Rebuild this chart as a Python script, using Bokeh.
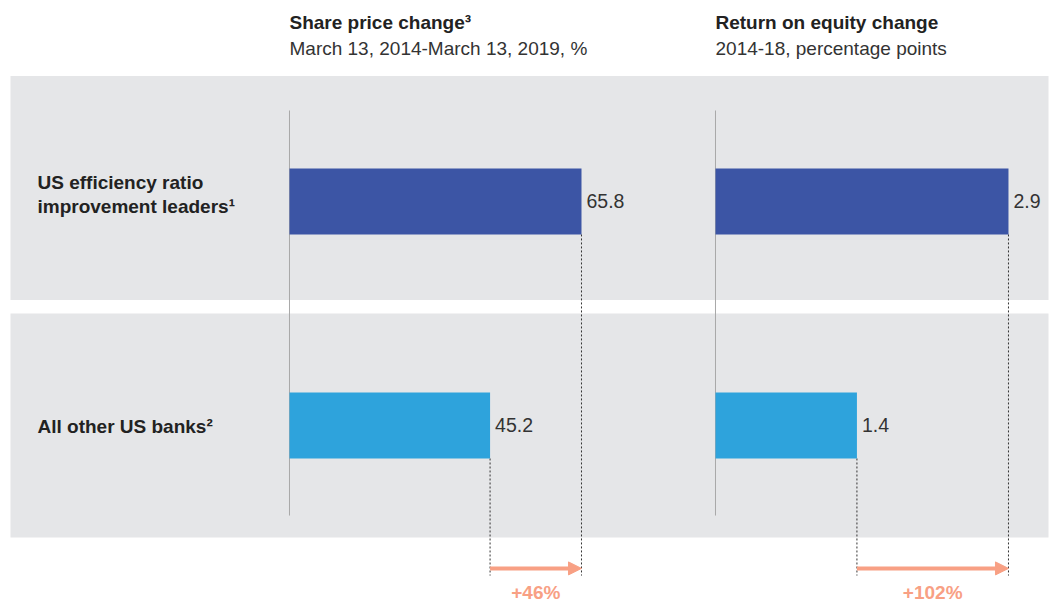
from bokeh.plotting import figure
from bokeh.models import Range1d, ColumnDataSource, Arrow, NormalHead
from bokeh.core.properties import value
from bokeh.embed import file_html
from bokeh.resources import INLINE

# ---- data ----
groups = ["US efficiency ratio\nimprovement leaders\u00b9", "All other US banks\u00b2"]
share_price_change = [65.8, 45.2]
roe_change = [2.9, 1.4]
panel_titles = ["Share price change\u00b3", "Return on equity change"]
panel_subtitles = ["March 13, 2014-March 13, 2019, %", "2014-18, percentage points"]
uplift_labels = ["+46%", "+102%"]

# ---- style ----
FONT = "Liberation Sans"
FS = "19px"
BAR_COLORS = ["#3c55a5", "#2ea3dc"]
BAND = "#e5e6e8"
ORANGE = "#f8a084"
DARK = "#222222"
TXT = "#333333"

W, H = 1049, 605
p = figure(width=W, height=H, x_range=Range1d(0, W), y_range=Range1d(-0.8036, 1.897),
           output_backend="svg", toolbar_location=None, min_border=0,
           x_axis_location=None, y_axis_location=None)
p.grid.visible = False
p.outline_line_color = None
p.background_fill_color = "white"
p.extra_x_ranges = {"share": Range1d(-65.12, 171.26), "roe": Range1d(-7.077, 3.306)}

n = len(groups)
ypos = [n - 1 - i for i in range(n)]
half = 0.1473

# grey bands
p.quad(left=10, right=W - 1, bottom=[y - 0.5 + 0.06 * y for y in ypos],
       top=[y + 0.5 + 0.06 * y for y in ypos], fill_color=BAND, line_color=None)

# category labels
lab_src = ColumnDataSource(dict(y=ypos, t=groups,
                                yo=[-7 if "\n" in g else 1 for g in groups]))
p.text(x=37, y="y", text="t", source=lab_src, y_offset="yo", text_font=value(FONT),
       text_font_style="bold", text_font_size=FS, text_color=DARK,
       text_baseline="middle", text_align="left", text_line_height=1.15)

panels = [("share", share_price_change), ("roe", roe_change)]
for k, (name, vals) in enumerate(panels):
    src = ColumnDataSource(dict(y=ypos, v=vals, c=BAR_COLORS,
                                lab=[f"{v:.1f}" for v in vals],
                                ybot=[y - half for y in ypos]))
    # baseline
    p.segment(x0=0, x1=0, y0=-0.402, y1=1.406, line_color="#a8a8a8", line_width=1,
              x_range_name=name)
    # dashed guides
    p.segment(x0="v", x1="v", y0="ybot", y1=-0.67, source=src, line_color="#333333",
              line_width=1, line_dash="2 2", x_range_name=name)
    # bars
    p.hbar(y="y", left=0, right="v", height=2 * half, fill_color="c", line_color=None,
           source=src, x_range_name=name)
    # value labels
    p.text(x="v", y="y", text="lab", source=src, x_offset=5, text_baseline="middle",
           text_font=value(FONT), text_font_size="19.5px", text_color=TXT,
           x_range_name=name)
    # titles
    p.text(x=[0], y=[1.80], text=[panel_titles[k]], text_font=value(FONT),
           text_font_style="bold", text_font_size=FS, text_color=DARK,
           text_baseline="middle", x_range_name=name)
    p.text(x=[0], y=[1.683], text=[panel_subtitles[k]], text_font=value(FONT),
           text_font_size=FS, text_color=TXT, text_baseline="middle",
           x_range_name=name)
    # uplift arrow
    p.add_layout(Arrow(x_start=vals[1], x_end=vals[0], y_start=-0.638, y_end=-0.638,
                       line_color=ORANGE, line_width=4, x_range_name=name,
                       end=NormalHead(size=13, fill_color=ORANGE, line_color=ORANGE)))
    p.text(x=[(vals[0] + vals[1]) / 2], y=[-0.745], text=[uplift_labels[k]],
           text_font=value(FONT), text_font_style="bold", text_font_size=FS,
           text_color=ORANGE, text_align="center", text_baseline="middle",
           x_range_name=name)

open("out.html", "w").write(file_html(p, INLINE))
